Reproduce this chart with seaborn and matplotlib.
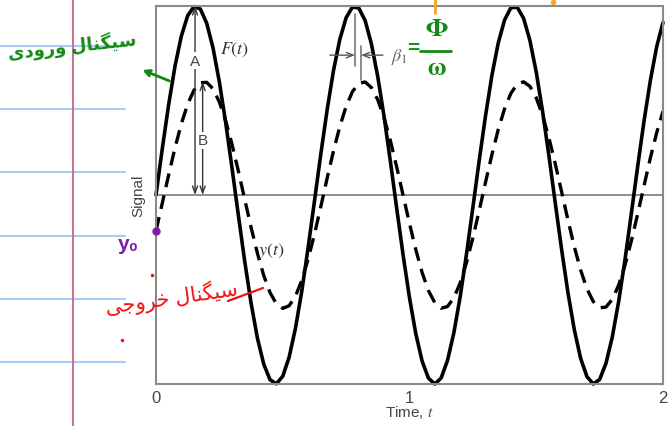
import numpy as np
import pandas as pd
import seaborn as sns
import matplotlib.pyplot as plt
from matplotlib.lines import Line2D

t = [0.000, 0.025, 0.050, 0.075, 0.100, 0.125, 0.150, 0.175, 0.200, 0.225,
     0.250, 0.275, 0.300, 0.325, 0.350, 0.375, 0.400, 0.425, 0.450, 0.475,
     0.500, 0.525, 0.550, 0.575, 0.600, 0.625, 0.650, 0.675, 0.700, 0.725,
     0.750, 0.775, 0.800, 0.825, 0.850, 0.875, 0.900, 0.925, 0.950, 0.975,
     1.000, 1.025, 1.050, 1.075, 1.100, 1.125, 1.150, 1.175, 1.200, 1.225,
     1.250, 1.275, 1.300, 1.325, 1.350, 1.375, 1.400, 1.425, 1.450, 1.475,
     1.500, 1.525, 1.550, 1.575, 1.600, 1.625, 1.650, 1.675, 1.700, 1.725,
     1.750, 1.775, 1.800, 1.825, 1.850, 1.875, 1.900, 1.925, 1.950, 1.975, 2.000]

F_t = [0.000, 0.247, 0.479, 0.682, 0.841, 0.949, 0.997, 0.984, 0.909, 0.778,
       0.598, 0.382, 0.141, -0.108, -0.351, -0.572, -0.757, -0.895, -0.978, -0.999,
       -0.959, -0.859, -0.706, -0.510, -0.279, -0.033, 0.215, 0.450, 0.657, 0.823,
       0.938, 0.995, 0.989, 0.923, 0.798, 0.625, 0.412, 0.174, -0.075, -0.320,
       -0.544, -0.735, -0.880, -0.970, -1.000, -0.968, -0.875, -0.729, -0.537, -0.311,
       -0.066, 0.183, 0.420, 0.632, 0.804, 0.926, 0.991, 0.994, 0.935, 0.818,
       0.650, 0.442, 0.207, -0.042, -0.288, -0.516, -0.712, -0.864, -0.961, -1.000,
       -0.976, -0.891, -0.751, -0.564, -0.343, -0.099, 0.150, 0.390, 0.605, 0.784, 0.913]

y_t = [-0.189, -0.042, 0.107, 0.250, 0.377, 0.481, 0.555, 0.594, 0.596, 0.562,
       0.492, 0.392, 0.267, 0.126, -0.023, -0.171, -0.308, -0.426, -0.517, -0.576,
       -0.600, -0.586, -0.536, -0.452, -0.340, -0.208, -0.062, 0.088, 0.232, 0.362,
       0.469, 0.547, 0.591, 0.598, 0.568, 0.503, 0.407, 0.285, 0.145, -0.003,
       -0.151, -0.290, -0.411, -0.507, -0.570, -0.599, -0.590, -0.544, -0.465, -0.357,
       -0.226, -0.082, 0.068, 0.213, 0.346, 0.456, 0.538, 0.587, 0.599, 0.575,
       0.514, 0.421, 0.302, 0.165, 0.017, -0.132, -0.273, -0.397, -0.496, -0.564,
       -0.597, -0.593, -0.552, -0.477, -0.372, -0.244, -0.101, 0.048, 0.195, 0.329, 0.443]

x_ticks = [0, 1, 2]
A_amp = 1.0      # input amplitude
B_amp = 0.6      # output amplitude
t_peak_F = 0.785  # second peak of F(t)
t_peak_y = 0.809  # second peak of y(t)

# handwritten notes (persian, pre-shaped, left-to-right visual order)
note_in = '\uFEEF\uFEA9\uFEED\uFEAD\uFEED \uFEDD\uFE8E\uFEE8\uFB95\uFEF4\uFEB3'   # سیگنال ورودی
note_out = '\uFEF0\uFE9F\uFEED\uFEAE\uFEA7 \uFEDD\uFE8E\uFEE8\uFB95\uFEF4\uFEB3'  # سیگنال خروجی

sns.set_style('white')
plt.rcParams['font.family'] = ['Liberation Sans', 'DejaVu Sans']
plt.rcParams['mathtext.fontset'] = 'stix'

W, H = 669, 427
fig = plt.figure(figsize=(W / 100, H / 100), dpi=100)


def fp(x, y):
    # figure pixel (top-left origin) -> figure fraction
    return x / W, 1 - y / H


# notebook paper at the left
for yy in [47, 110, 173, 237, 300, 363]:
    fig.add_artist(Line2D([0, 125 / W], [1 - yy / H] * 2, color='#a9cdf7', lw=1.5))
fig.add_artist(Line2D([73 / W] * 2, [0, 1], color='#c07890', lw=1.5))

ax = fig.add_axes([156 / W, 1 - 385 / H, (663 - 156) / W, (385 - 7) / H])
df = pd.DataFrame({'t': t, 'F': F_t, 'y': y_t})
sns.lineplot(data=df, x='t', y='F', color='black', lw=2.6, ax=ax, clip_on=False)
sns.lineplot(data=df, x='t', y='y', color='black', lw=2.4, linestyle=(0, (4.2, 2.5)), ax=ax)

ax.axhline(0, color='#7a7a7a', lw=1.2, zorder=1)
ax.set_xlim(0, 2)
ax.set_ylim(-1, 1)
ax.set_xticks(x_ticks)
ax.set_xticklabels([str(v) for v in x_ticks])
ax.set_yticks([])
ax.tick_params(axis='x', direction='in', length=8, width=1.2, colors='#8a8a8a',
               labelcolor='#444444', labelsize=12, pad=4)
for s in ax.spines.values():
    s.set_color('#8a8a8a')
    s.set_linewidth(1.5)
ax.set_xlabel('Time, $t$', fontsize=11, color='#444444', labelpad=-1)
ax.set_ylabel('Signal', fontsize=11, color='#444444', labelpad=8)

# amplitude arrows
arr = dict(arrowstyle='<->,head_length=0.5,head_width=0.18', color='#333333', lw=1.0,
           shrinkA=0, shrinkB=0)
ax.annotate('', xy=(0.154, A_amp), xytext=(0.154, 0), arrowprops=arr)
ax.annotate('', xy=(0.184, B_amp), xytext=(0.184, 0), arrowprops=arr)
ax.text(0.154, 0.71, 'A', ha='center', va='center', fontsize=11, color='#444444',
        bbox=dict(facecolor='white', edgecolor='none', pad=1))
ax.text(0.184, 0.29, 'B', ha='center', va='center', fontsize=11, color='#444444',
        bbox=dict(facecolor='white', edgecolor='none', pad=1))

ax.text(0.31, 0.775, '$F(t)$', fontsize=13, color='#333333', ha='center', va='center')
ax.text(0.455, -0.29, '$y(t)$', fontsize=13, color='#333333', ha='center', va='center')

# phase lag marker
ax.plot([t_peak_F] * 2, [0.68, 0.96], color='#777777', lw=1.2)
ax.plot([t_peak_y] * 2, [0.61, 0.79], color='#777777', lw=1.2)
harr = dict(arrowstyle='->,head_length=0.5,head_width=0.2', color='#555555', lw=1.0,
            shrinkA=0, shrinkB=0)
ax.annotate('', xy=(t_peak_F, 0.74), xytext=(0.686, 0.74), arrowprops=harr)
ax.annotate('', xy=(t_peak_y, 0.74), xytext=(0.895, 0.74), arrowprops=harr)
ax.text(0.928, 0.735, r'$\beta_1$', fontsize=13, color='#666666', va='center')

# purple y0 mark on the output curve at t=0
ax.plot([0], [y_t[0]], 'o', color='#7a1fa2', ms=5, clip_on=False, zorder=5)

# handwritten notes
green = '#138a13'
fig.text(*fp(72, 46), note_in, color=green, fontsize=13, ha='center', va='center',
         rotation=6, fontweight='bold')
fig.add_artist(plt.annotate('', xy=fp(140, 70), xytext=fp(172, 83), xycoords='figure fraction',
                            textcoords='figure fraction',
                            arrowprops=dict(arrowstyle='->', color=green, lw=1.8)))
fig.text(*fp(413, 49), '=', color=green, fontsize=15, ha='center', va='center', fontweight='bold')
fig.text(*fp(437, 29), r'$\mathbf{\Phi}$', color=green, fontsize=19, ha='center', va='center')
fig.add_artist(Line2D([fp(420, 0)[0], fp(451, 0)[0]], [fp(0, 52)[1]] * 2, color=green, lw=2))
fig.text(*fp(437, 68), r'$\mathbf{\omega}$', color=green, fontsize=18, ha='center', va='center')

fig.text(*fp(128, 245), 'y\u2080', color='#7a1fa2', fontsize=15, ha='center', va='center',
         fontweight='bold')

red = '#f01010'
fig.text(*fp(172, 298), note_out, color=red, fontsize=15, ha='center', va='center',
         rotation=8)
fig.add_artist(Line2D([fp(228, 0)[0], fp(263, 0)[0]], [fp(0, 302)[1], fp(0, 289)[1]],
                      color=red, lw=1.6))
fig.add_artist(Line2D([fp(152, 0)[0]], [fp(0, 276)[1]], marker='.', color=red, ms=3))
fig.add_artist(Line2D([fp(122, 0)[0]], [fp(0, 341)[1]], marker='.', color=red, ms=3))

orange = '#f5a623'
fig.add_artist(Line2D([fp(435, 0)[0]] * 2, [fp(0, 0)[1], fp(0, 14)[1]], color=orange, lw=2))
fig.add_artist(Line2D([fp(553, 0)[0]], [fp(0, 3)[1]], marker='o', color=orange, ms=3))

fig.savefig('out.png', dpi=100)
